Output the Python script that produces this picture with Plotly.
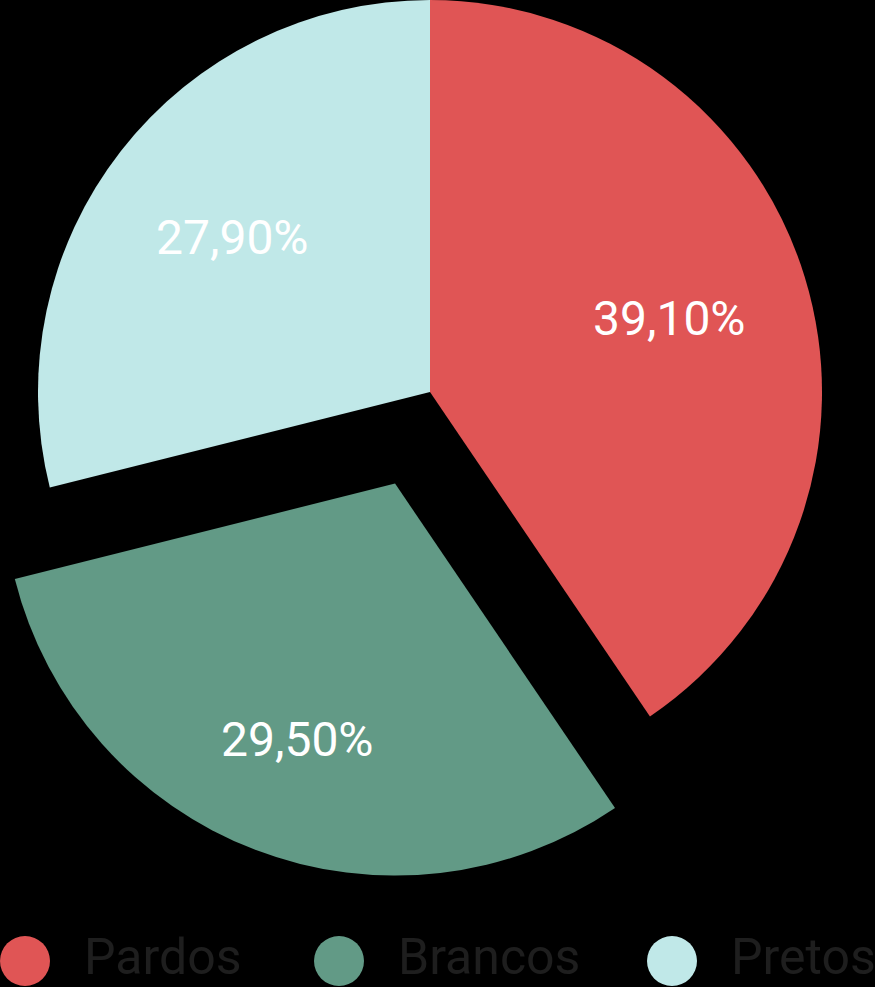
import math
import plotly.graph_objects as go

labels = ["Pardos", "Brancos", "Pretos"]
values = [39.1, 29.5, 27.9]
text_labels = ["39,10%", "29,50%", "27,90%"]
colors = ["#E05555", "#629A86", "#C0E8E8"]
pulled = "Brancos"

W, H = 875, 987
R = 392
cx, cy = 430, 392
pull_frac = 0.25
label_r = [0.64, 0.70, 0.64]


def dom(cxp, cyp, r):
    return dict(x=[(cxp - r) / W, (cxp + r) / W], y=[1 - (cyp + r) / H, 1 - (cyp - r) / H])


total = sum(values)
mids = []
acc = 0
for v in values:
    mids.append((acc + v / 2) / total * 360)
    acc += v
idx = labels.index(pulled)
dx = math.sin(math.radians(mids[idx])) * R * pull_frac
dy = -math.cos(math.radians(mids[idx])) * R * pull_frac

main_colors = [c if l != pulled else "rgba(0,0,0,0)" for l, c in zip(labels, colors)]
pull_colors = [c if l == pulled else "rgba(0,0,0,0)" for l, c in zip(labels, colors)]

fig = go.Figure()
common = dict(labels=labels, values=values, sort=False, direction="clockwise", rotation=0,
              textinfo="none", hoverinfo="label+percent", showlegend=False)
fig.add_trace(go.Pie(marker=dict(colors=main_colors, line=dict(width=0)),
                     domain=dom(cx, cy, R), **common))
fig.add_trace(go.Pie(marker=dict(colors=pull_colors, line=dict(width=0)),
                     domain=dom(cx + dx, cy + dy, R), **common))

annotations = []
# slice labels placed along each slice's mid-angle
for lab, txt, m, rf in zip(labels, text_labels, mids, label_r):
    ox, oy = (cx + dx, cy + dy) if lab == pulled else (cx, cy)
    px = ox + math.sin(math.radians(m)) * R * rf
    py = oy - math.cos(math.radians(m)) * R * rf
    annotations.append(dict(text=txt, xref="paper", yref="paper", x=px / W, y=1 - py / H,
                            xanchor="center", yanchor="middle", showarrow=False,
                            font=dict(family="Roboto", size=48, color="white")))

# legend with large circular markers
leg_x = [25, 339, 672]
leg_y = 961
shapes = []
for lab, col, lx in zip(labels, colors, leg_x):
    shapes.append(dict(type="circle", xref="paper", yref="paper",
                       x0=(lx - 25) / W, x1=(lx + 25) / W,
                       y0=1 - (leg_y + 25) / H, y1=1 - (leg_y - 25) / H,
                       fillcolor=col, line=dict(width=0)))
    annotations.append(dict(text=lab, xref="paper", yref="paper", x=(lx + 58) / W, y=0,
                            xanchor="left", yanchor="bottom", showarrow=False, borderpad=0,
                            font=dict(family="Roboto", size=50, color="#1E1E1E")))

fig.update_layout(width=W, height=H, margin=dict(l=0, r=0, t=0, b=0),
                  paper_bgcolor="black", plot_bgcolor="black",
                  shapes=shapes, annotations=annotations)
fig.write_html("out.html", config={"displayModeBar": False},
               post_script="document.body.style.margin='0';document.body.style.background='black';")
